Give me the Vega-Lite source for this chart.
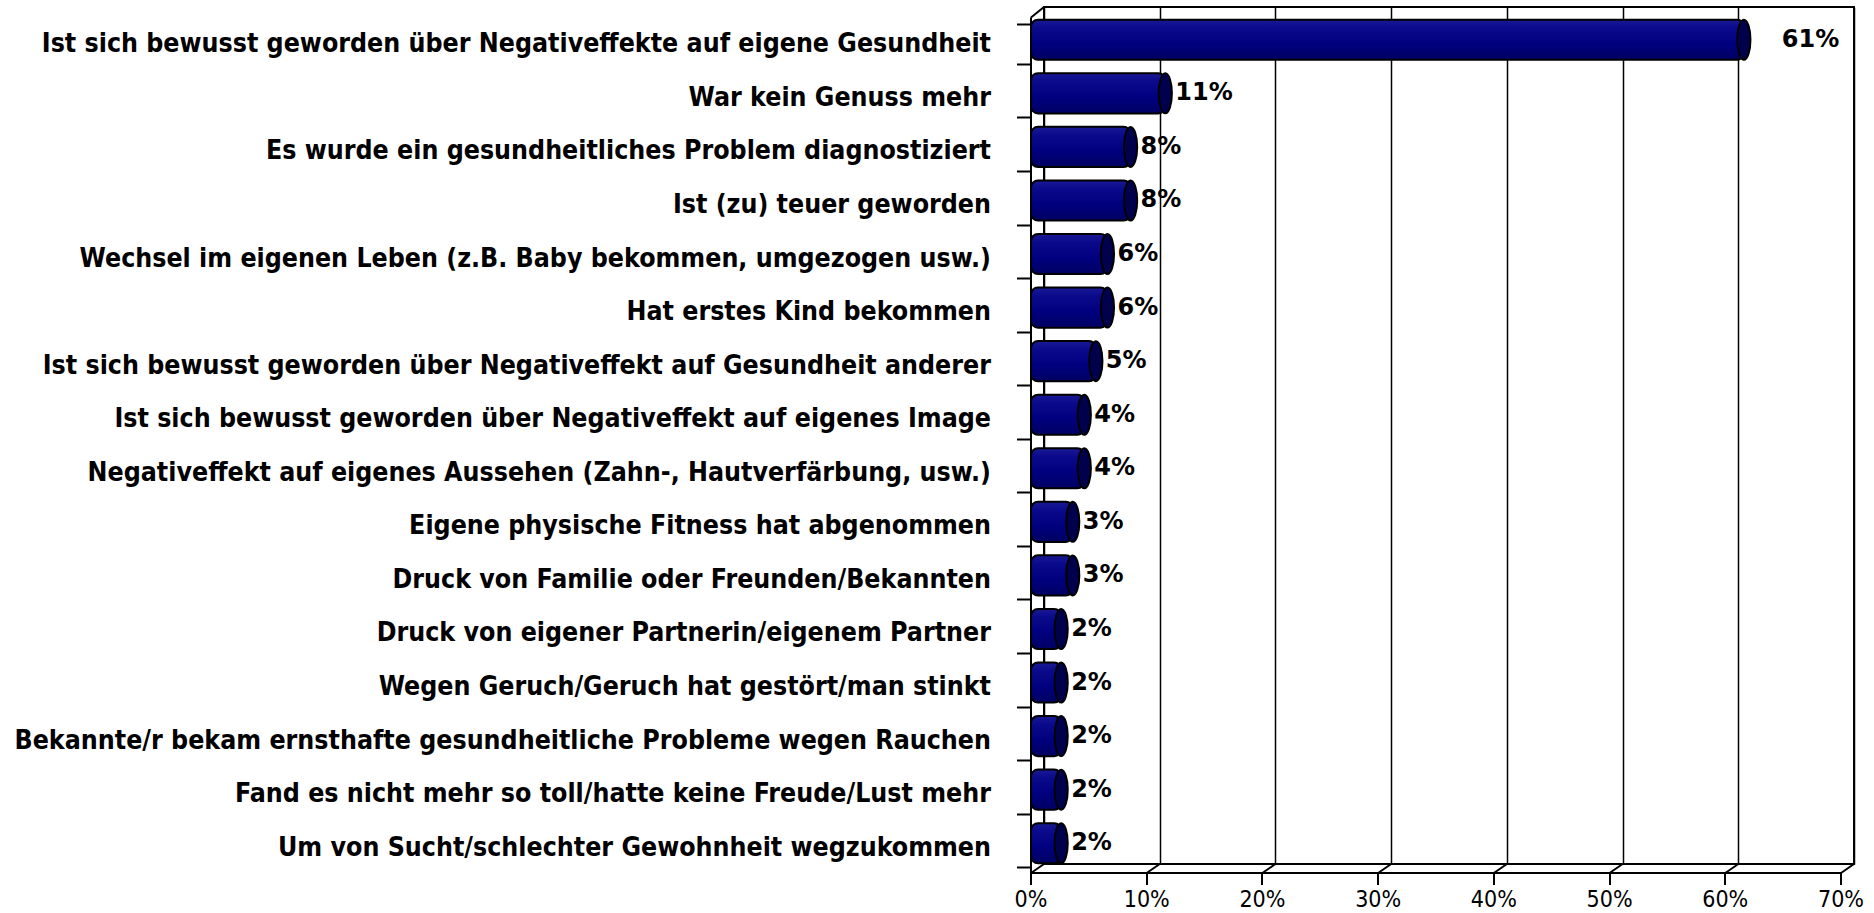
{
  "$schema": "https://vega.github.io/schema/vega-lite/v6.json",
  "width": 810,
  "height": 857,
  "autosize": {"type": "none"},
  "padding": {"left": 1044, "top": 7, "right": 20, "bottom": 49},
  "background": "white",
  "config": {"view": {"stroke": "black", "strokeWidth": 2}},
  "datasets": {
    "main": [
      {"reason": "Ist sich bewusst geworden über Negativeffekte auf eigene Gesundheit", "pct": 61},
      {"reason": "War kein Genuss mehr", "pct": 11},
      {"reason": "Es wurde ein gesundheitliches Problem diagnostiziert\u00a0", "pct": 8},
      {"reason": "Ist (zu) teuer geworden", "pct": 8},
      {"reason": "Wechsel im eigenen Leben (z.B. Baby bekommen, umgezogen usw.)", "pct": 6},
      {"reason": "Hat erstes Kind bekommen", "pct": 6},
      {"reason": "Ist sich bewusst geworden über Negativeffekt auf Gesundheit anderer", "pct": 5},
      {"reason": "Ist sich bewusst geworden über Negativeffekt auf eigenes Image", "pct": 4},
      {"reason": "Negativeffekt auf eigenes Aussehen (Zahn-, Hautverfärbung, usw.)\u00a0", "pct": 4},
      {"reason": "Eigene physische Fitness hat abgenommen", "pct": 3},
      {"reason": "Druck von Familie oder Freunden/Bekannten", "pct": 3},
      {"reason": "Druck von eigener Partnerin/eigenem Partner", "pct": 2},
      {"reason": "Wegen Geruch/Geruch hat gestört/man stinkt\u00a0", "pct": 2},
      {"reason": "Bekannte/r bekam ernsthafte gesundheitliche Probleme wegen Rauchen", "pct": 2},
      {"reason": "Fand es nicht mehr so toll/hatte keine Freude/Lust mehr", "pct": 2},
      {"reason": "Um von Sucht/schlechter Gewohnheit wegzukommen\u00a0", "pct": 2}
    ],
    "ticks": [{"t": 0}, {"t": 10}, {"t": 20}, {"t": 30}, {"t": 40}, {"t": 50}, {"t": 60}, {"t": 70}]
  },
  "layer": [
    {
      "data": {"name": "ticks"},
      "mark": {"type": "point", "shape": "M-1,0.7 L1,-0.7", "size": 169, "filled": false, "stroke": "black", "strokeWidth": 2, "opacity": 1, "y": "height", "xOffset": -6.5, "yOffset": 4.5},
      "encoding": {
        "x": {
          "field": "t", "type": "quantitative",
          "scale": {"domain": [0, 70], "nice": false, "zero": true},
          "axis": {
            "orient": "bottom", "offset": 22, "translate": -13, "title": null,
            "values": [0, 10, 20, 30, 40, 50, 60, 70],
            "grid": false, "domain": true, "domainColor": "black", "domainWidth": 2,
            "ticks": true, "tickColor": "black", "tickWidth": 2, "tickSize": 12,
            "labelExpr": "datum.value + '%'", "labelFlush": false,
            "labelFont": "DejaVu Sans Condensed, Liberation Sans Narrow, DejaVu Sans", "labelFontSize": 23, "labelColor": "black", "labelPadding": 4
          }
        }
      }
    },
    {
      "data": {"name": "ticks"},
      "transform": [{"filter": "datum.t == 0"}],
      "mark": {"type": "point", "shape": "M-1,0.81 L1,-0.81", "size": 169, "filled": false, "stroke": "black", "strokeWidth": 2, "opacity": 1, "y": 0, "xOffset": -6.5, "yOffset": 5.25},
      "encoding": {"x": {"field": "t", "type": "quantitative", "axis": null}}
    },
    {
      "data": {"name": "main"},
      "layer": [
        {
          "mark": {
            "type": "bar", "cornerRadius": 7, "stroke": "black", "strokeWidth": 2,
            "fill": {"gradient": "linear", "x1": 0, "y1": 0, "x2": 0, "y2": 1, "stops": [
              {"offset": 0, "color": "#1a1a96"}, {"offset": 0.2, "color": "#0a0a8c"}, {"offset": 0.6, "color": "#00007f"}, {"offset": 1, "color": "#000062"}]},
            "xOffset": -6, "x2Offset": -13, "yOffset": 6, "y2Offset": 6
          },
          "encoding": {
            "y": {
              "field": "reason", "type": "nominal", "sort": null,
              "scale": {"paddingInner": 0.25, "paddingOuter": 0.125},
              "axis": {
                "orient": "left", "title": null, "offset": 23.5, "translate": 10.5,
                "domain": true, "domainColor": "black", "domainWidth": 2,
                "ticks": true, "tickColor": "black", "tickWidth": 2, "tickSize": 14, "tickBand": "extent",
                "labelFont": "DejaVu Sans Condensed, Liberation Sans Narrow, DejaVu Sans", "labelFontWeight": "bold", "labelFontSize": 26.5,
                "labelColor": "black", "labelPadding": 26, "labelLimit": 1100
              }
            },
            "x": {
              "field": "pct", "type": "quantitative",
              "axis": {
                "orient": "bottom", "title": null, "values": [0, 10, 20, 30, 40, 50, 60, 70],
                "grid": true, "gridColor": "black", "gridWidth": 1.5, "gridOpacity": 1,
                "domain": false, "ticks": false, "labels": false
              }
            },
            "x2": {"datum": 0}
          }
        },
        {
          "mark": {"type": "point", "shape": "M0,-1 A0.33,1 0 1,1 0,1 A0.33,1 0 1,1 0,-1 Z", "size": 1600, "filled": true, "fill": "#00004c", "stroke": "black", "strokeWidth": 2, "opacity": 1, "xOffset": -6, "yOffset": 6},
          "encoding": {
            "y": {"field": "reason", "type": "nominal", "sort": null},
            "x": {"field": "pct", "type": "quantitative"}
          }
        },
        {
          "transform": [{"filter": "datum.pct < 50"}],
          "mark": {"type": "text", "align": "left", "baseline": "middle", "font": "DejaVu Sans", "fontWeight": "bold", "fontSize": 24, "color": "black", "dx": 4, "yOffset": 6, "text": {"expr": "datum.pct + '%'"}},
          "encoding": {
            "y": {"field": "reason", "type": "nominal", "sort": null},
            "x": {"field": "pct", "type": "quantitative"}
          }
        },
        {
          "transform": [{"filter": "datum.pct >= 50"}],
          "mark": {"type": "text", "align": "left", "baseline": "middle", "font": "DejaVu Sans", "fontWeight": "bold", "fontSize": 24, "color": "black", "dx": 32, "yOffset": 6, "text": {"expr": "datum.pct + '%'"}},
          "encoding": {
            "y": {"field": "reason", "type": "nominal", "sort": null},
            "x": {"field": "pct", "type": "quantitative"}
          }
        }
      ]
    }
  ],
  "resolve": {"axis": {"x": "independent"}}
}
